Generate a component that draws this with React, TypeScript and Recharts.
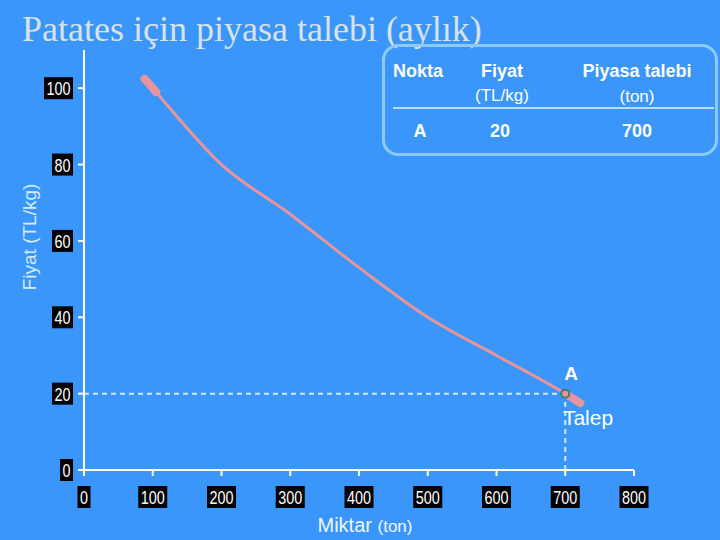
import { LineChart, Line, XAxis, YAxis, ReferenceLine, ReferenceDot } from "recharts";

// Demand curve (quantity in tons, price in TL/kg)
const demandCurve = [
  { q: 88, p: 102.5 },
  { q: 100, p: 100 },
  { q: 200, p: 80 },
  { q: 300, p: 67 },
  { q: 400, p: 53 },
  { q: 500, p: 40 },
  { q: 600, p: 30 },
  { q: 700, p: 20 },
  { q: 722, p: 17.5 },
];
const startCap = [
  { q: 88, p: 102.5 },
  { q: 105, p: 99 },
];
const endCap = [
  { q: 700, p: 20 },
  { q: 722, p: 17.5 },
];

const xTicks = [0, 100, 200, 300, 400, 500, 600, 700, 800];
const yTicks = [0, 20, 40, 60, 80, 100];
const pointA = { q: 700, p: 20 };

const BG = "#3a96fa";
const CURVE = "#e8949c";
const DASH = "#cfe7ff";
const LABEL_FONT = "'Liberation Sans', Arial, sans-serif";

// tick labels are condensed in the original, so squeeze them a bit
const glyphW = 8;
const boxW = (s: string) => s.length * glyphW + 5;

function XTick(props: any) {
  const { x, y, payload } = props;
  const s = String(payload.value);
  const w = boxW(s);
  return (
    <g>
      <rect x={x - w / 2} y={y + 8} width={w} height={22} fill="#000" />
      <text
        x={x}
        y={y + 26}
        textAnchor="middle"
        fill="#fff"
        fontSize={19}
        fontFamily={LABEL_FONT}
        textLength={s.length * glyphW}
        lengthAdjust="spacingAndGlyphs"
      >
        {s}
      </text>
    </g>
  );
}

function YTick(props: any) {
  const { x, y, payload } = props;
  const s = String(payload.value);
  const w = boxW(s);
  return (
    <g>
      <rect x={x - 3 - w} y={y - 11} width={w} height={22} fill="#000" />
      <text
        x={x - 3 - w / 2}
        y={y + 7}
        textAnchor="middle"
        fill="#fff"
        fontSize={19}
        fontFamily={LABEL_FONT}
        textLength={s.length * glyphW}
        lengthAdjust="spacingAndGlyphs"
      >
        {s}
      </text>
    </g>
  );
}

const th: React.CSSProperties = { position: "absolute", textAlign: "center", color: "#fff", fontFamily: LABEL_FONT, lineHeight: 1 };

export default function App() {
  return (
    <div style={{ position: "absolute", left: 0, top: 0, width: 720, height: 540, background: BG, overflow: "hidden" }}>
      <LineChart width={720} height={540} margin={{ top: 50, right: 86, bottom: 0, left: 0 }}>
        <XAxis
          dataKey="q"
          type="number"
          domain={[0, 800]}
          ticks={xTicks}
          height={70}
          stroke="#fff"
          strokeWidth={2}
          tickSize={6}
          tick={<XTick />}
          interval={0}
        />
        <YAxis
          dataKey="p"
          type="number"
          domain={[0, 110]}
          ticks={yTicks}
          width={84}
          stroke="#fff"
          strokeWidth={2}
          tickSize={6}
          tick={<YTick />}
          interval={0}
        />
        <ReferenceLine
          segment={[{ x: 0, y: 20 }, { x: 700, y: 20 }]}
          stroke={DASH}
          strokeWidth={2}
          strokeDasharray="5 4"
        />
        <ReferenceLine
          segment={[{ x: 700, y: 0 }, { x: 700, y: 20 }]}
          stroke={DASH}
          strokeWidth={2}
          strokeDasharray="5 4"
        />
        <Line
          data={demandCurve}
          dataKey="p"
          type="monotone"
          stroke={CURVE}
          strokeWidth={3}
          dot={false}
          isAnimationActive={false}
        />
        <Line
          data={startCap}
          dataKey="p"
          type="linear"
          stroke={CURVE}
          strokeWidth={8}
          strokeLinecap="round"
          dot={false}
          isAnimationActive={false}
        />
        <Line
          data={endCap}
          dataKey="p"
          type="linear"
          stroke={CURVE}
          strokeWidth={8}
          strokeLinecap="round"
          dot={false}
          isAnimationActive={false}
        />
        <ReferenceDot x={pointA.q} y={pointA.p} r={4} fill={CURVE} stroke="#3d7d72" strokeWidth={2} />
      </LineChart>

      {/* title */}
      <div
        style={{
          position: "absolute",
          left: 22,
          top: 11,
          fontFamily: "'Liberation Serif', 'Times New Roman', serif",
          fontSize: 36,
          color: "#d8e2e6",
          whiteSpace: "nowrap",
          lineHeight: 1,
        }}
      >
        Patates için piyasa talebi (aylık)
      </div>

      {/* axis labels */}
      <div
        style={{
          position: "absolute",
          left: 30,
          top: 237,
          transform: "translate(-50%, -50%) rotate(-90deg)",
          fontFamily: LABEL_FONT,
          fontSize: 19,
          color: "#d4ebff",
          whiteSpace: "nowrap",
        }}
      >
        Fiyat (TL/kg)
      </div>
      <div
        style={{
          position: "absolute",
          left: 365,
          top: 525,
          transform: "translate(-50%, -50%)",
          fontFamily: LABEL_FONT,
          fontSize: 20,
          color: "#eef6ff",
          whiteSpace: "nowrap",
        }}
      >
        Miktar <span style={{ fontSize: 17 }}>(ton)</span>
      </div>

      {/* point labels */}
      <div style={{ ...th, left: 571, top: 373, transform: "translate(-50%, -50%)", fontSize: 19, fontWeight: "bold" }}>A</div>
      <div style={{ ...th, left: 588, top: 417, transform: "translate(-50%, -50%)", fontSize: 21 }}>Talep</div>

      {/* table */}
      <div
        style={{
          position: "absolute",
          left: 382,
          top: 44,
          width: 336,
          height: 112,
          border: "3px solid #8ecaf8",
          borderRadius: 16,
          boxSizing: "border-box",
        }}
      />
      <div style={{ position: "absolute", left: 393, top: 107, width: 321, height: 2, background: "#b9dcfb" }} />
      <div style={{ ...th, left: 418, top: 71, transform: "translate(-50%, -50%)", fontSize: 18, fontWeight: "bold" }}>Nokta</div>
      <div style={{ ...th, left: 502, top: 71, transform: "translate(-50%, -50%)", fontSize: 18, fontWeight: "bold" }}>Fiyat</div>
      <div style={{ ...th, left: 502, top: 95, transform: "translate(-50%, -50%)", fontSize: 17 }}>(TL/kg)</div>
      <div style={{ ...th, left: 637, top: 71, transform: "translate(-50%, -50%)", fontSize: 18, fontWeight: "bold", whiteSpace: "nowrap" }}>Piyasa talebi</div>
      <div style={{ ...th, left: 637, top: 96, transform: "translate(-50%, -50%)", fontSize: 17 }}>(ton)</div>
      <div style={{ ...th, left: 420, top: 131, transform: "translate(-50%, -50%)", fontSize: 18, fontWeight: "bold" }}>A</div>
      <div style={{ ...th, left: 500, top: 131, transform: "translate(-50%, -50%)", fontSize: 18, fontWeight: "bold" }}>20</div>
      <div style={{ ...th, left: 637, top: 131, transform: "translate(-50%, -50%)", fontSize: 18, fontWeight: "bold" }}>700</div>
    </div>
  );
}
